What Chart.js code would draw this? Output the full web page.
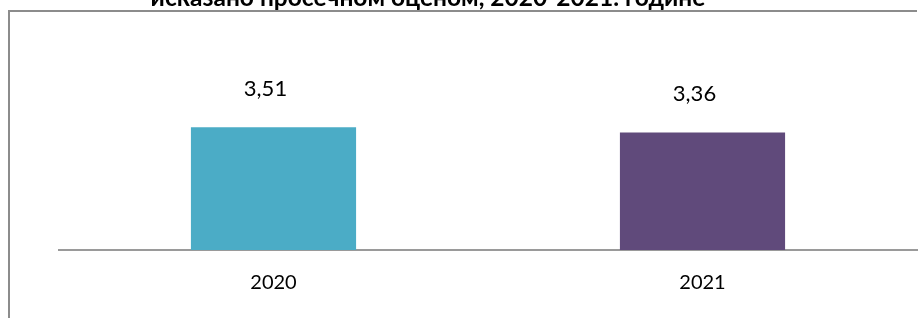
<!DOCTYPE html>
<html>
<head>
<meta charset="utf-8">
<script src="https://cdn.jsdelivr.net/npm/chart.js@4.4.1/dist/chart.umd.min.js"></script>
<style>
  html, body { margin: 0; padding: 0; background: #fff; }
  #wrap { width: 920px; height: 318px; position: relative; }
</style>
</head>
<body>
<div id="wrap"><canvas id="ctx" width="920" height="318"></canvas></div>
<script>
  // chart data
  const titleText = 'исказано просечном оценом, 2020-2021. године';
  const years = ['2020', '2021'];
  const scores = [3.51, 3.36];
  const barColors = ['#4BACC6', '#604A7B'];

  // frame + cut-off title
  const framePlugin = {
    id: 'frame',
    beforeDraw(chart) {
      const c = chart.ctx;
      c.save();
      c.strokeStyle = '#8c8c8c';
      c.lineWidth = 2;
      c.beginPath();
      c.moveTo(9, 318);
      c.lineTo(9, 11);
      c.lineTo(917, 11);
      c.stroke();
      c.fillStyle = '#000';
      c.font = 'bold 24.5px Lato';
      c.textAlign = 'center';
      c.textBaseline = 'alphabetic';
      c.fillText(titleText, 428, 6);
      c.restore();
    }
  };

  // value labels above bars
  const valuePlugin = {
    id: 'values',
    afterDatasetsDraw(chart) {
      const c = chart.ctx;
      const meta = chart.getDatasetMeta(0);
      c.save();
      c.fillStyle = '#000';
      c.font = '22px Lato';
      c.textAlign = 'center';
      c.textBaseline = 'middle';
      meta.data.forEach((bar, i) => {
        c.fillText(scores[i].toFixed(2).replace('.', ','), bar.x - 8, bar.y - 38);
      });
      c.restore();
    }
  };

  const myChart = new Chart(document.getElementById('ctx'), {
    type: 'bar',
    data: {
      labels: years,
      datasets: [{
        data: scores,
        backgroundColor: barColors,
        borderWidth: 0,
        categoryPercentage: 1,
        barPercentage: 0.385
      }]
    },
    options: {
      responsive: false,
      animation: false,
      layout: { padding: { left: 59, right: 3, top: 40, bottom: 0 } },
      plugins: {
        legend: { display: false },
        title: { display: false },
        tooltip: { enabled: false }
      },
      scales: {
        x: {
          grid: { display: false, drawTicks: false },
          border: { display: true, color: '#9a9a9a', width: 2 },
          ticks: { color: '#000', font: { family: 'Lato', size: 20 }, padding: 21 },
          afterFit(scale) { scale.height = 68; }
        },
        y: {
          display: false,
          min: 0,
          max: 6
        }
      }
    },
    plugins: [framePlugin, valuePlugin]
  });
</script>
</body>
</html>
